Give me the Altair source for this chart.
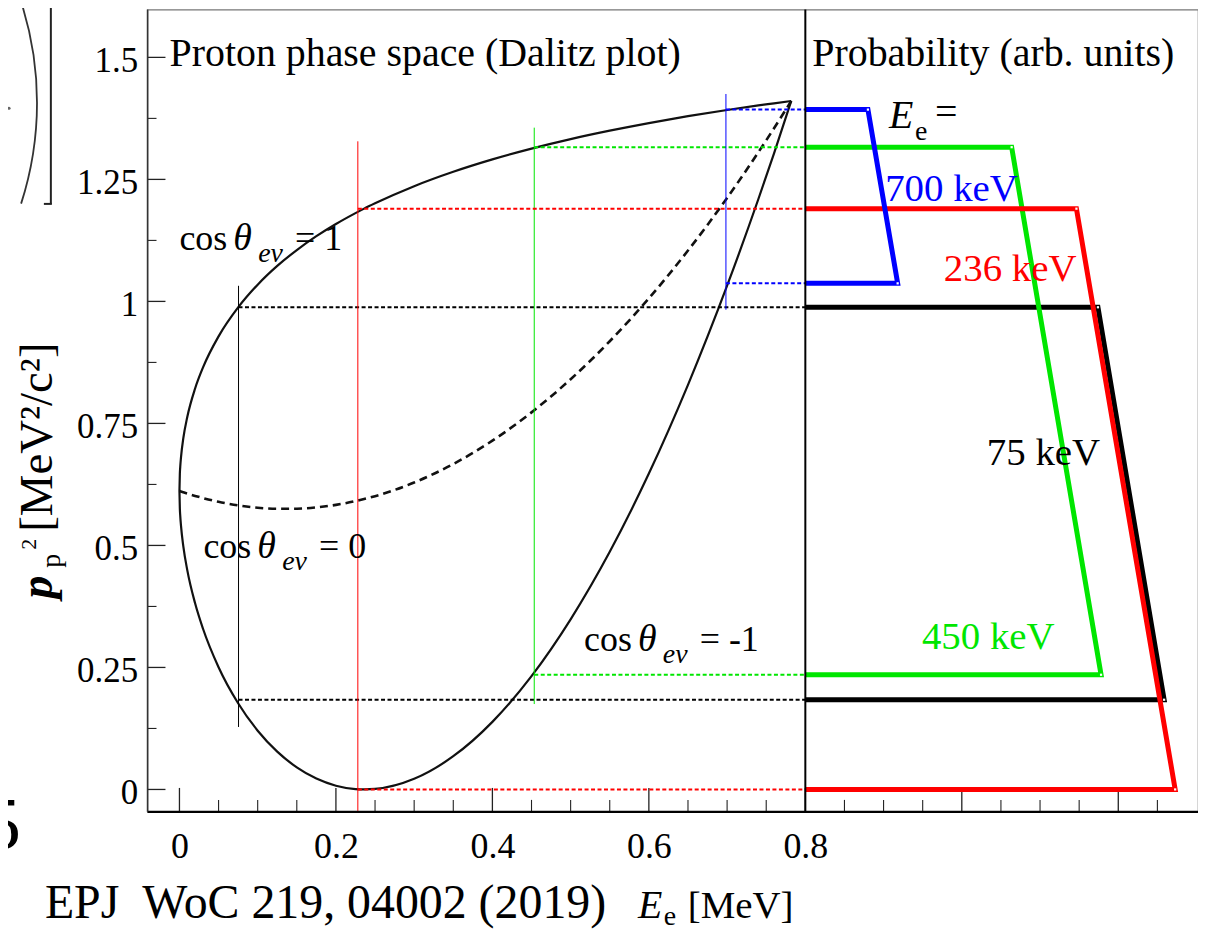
import altair as alt
import pandas as pd

FONT = "Liberation Serif"
W, H = 1054, 805
X_DOMAIN = [-0.0408, 1.3019]
Y_DOMAIN = [-0.0459, 1.598]

# ---------------- Dalitz boundary, values ----------------
E_grid = [0, 0.0005, 0.001, 0.002, 0.005, 0.01, 0.02, 0.03, 0.05, 0.075, 0.1,
          0.125, 0.15, 0.175, 0.2, 0.225, 0.236, 0.25, 0.3, 0.35, 0.4, 0.45,
          0.5, 0.55, 0.6, 0.65, 0.7, 0.74, 0.76, 0.782]
p2_cos_plus = [0.6115, 0.6466, 0.6609, 0.6810, 0.7202, 0.7632, 0.8216, 0.8643,
               0.9283, 0.9876, 1.0343, 1.0727, 1.1052, 1.1336, 1.1586, 1.1809,
               1.1901, 1.2010, 1.2361, 1.2656, 1.2910, 1.3131, 1.3326, 1.3498,
               1.3654, 1.3795, 1.3922, 1.4016, 1.4059, 1.4107]
p2_cos_zero = [0.6115, 0.6113, 0.6110, 0.6105, 0.6089, 0.6063, 0.6015, 0.5971,
               0.5894, 0.5821, 0.5773, 0.5750, 0.5752, 0.5779, 0.5831, 0.5908,
               0.5950, 0.6010, 0.6289, 0.6668, 0.7147, 0.7726, 0.8405, 0.9184,
               1.0063, 1.1042, 1.2121, 1.3057, 1.3548, 1.4107]
p2_cos_minus = [0.6115, 0.5759, 0.5610, 0.5399, 0.4975, 0.4494, 0.3814, 0.3298,
                0.2505, 0.1766, 0.1204, 0.0775, 0.0452, 0.0223, 0.0077, 0.0007,
                0.0000, 0.0010, 0.0218, 0.0681, 0.1385, 0.2322, 0.3486, 0.4869,
                0.6472, 0.8290, 1.0321, 1.2098, 1.3035, 1.4107]

# ---------------- selected electron energies (drawing order) ----------------
sel_label = ["75 keV", "450 keV", "236 keV", "700 keV"]
sel_color = ["#000000", "#00e600", "#ff0000", "#0000ff"]
sel_E = [0.0755, 0.4535, 0.228, 0.6985]
sel_vtop = [1.032, 1.356, 1.328, 1.425]
sel_vbot = [0.128, 0.175, -0.044, 0.983]
sel_p2_high = [0.988, 1.316, 1.190, 1.393]
sel_p2_low = [0.1838, 0.235, 0.0, 1.037]
prob_top_x = [1.174, 1.0637, 1.1465, 0.880]
prob_bot_x = [1.2586, 1.178, 1.2727, 0.918]
label_x = [1.032, 0.949, 0.977, 0.902]
label_y = [0.6647, 0.287, 1.0425, 1.206]
PANEL_SPLIT = 0.8

# ---------------- axes ----------------
x_tick_labels = [0, 0.2, 0.4, 0.6, 0.8]
x_ticks_major = [0, 0.2, 0.4, 0.6, 0.8, 1.0, 1.2]
x_ticks_minor = [0.05, 0.1, 0.15, 0.25, 0.3, 0.35, 0.45, 0.5, 0.55, 0.65, 0.7,
                 0.75, 0.85, 0.9, 0.95, 1.05, 1.1, 1.15, 1.25]
y_ticks_major = [0, 0.25, 0.5, 0.75, 1.0, 1.25, 1.5]
y_ticks_minor = [0.125, 0.375, 0.625, 0.875, 1.125, 1.375]

# ---------------- annotations ----------------
title_text = ["Proton phase space (Dalitz plot)", "Probability (arb. units)"]
title_x = [-0.0127, 0.8089]
title_y = [1.4815, 1.4815]
cos_value = ["= 1", "= 0", "= -1"]
cos_x = [0.0, 0.0306, 0.5172]
cos_y = [1.1058, 0.4748, 0.2828]
ee_x = [0.907]
ee_y = [1.355]

X_AXIS = alt.Axis(values=x_tick_labels, labelExpr="'' + datum.value", labelFont=FONT,
                  labelFontSize=36, labelColor="black", labelPadding=18, ticks=False,
                  domain=False, grid=False, labelFlush=False, labelOverlap=False)
Y_AXIS = alt.Axis(values=y_ticks_major, labelExpr="'' + datum.value", labelFont=FONT,
                  labelFontSize=35, labelColor="black", labelPadding=10, ticks=False,
                  domain=False, grid=False, labelFlush=False, labelOverlap=False,
                  labelBaseline="middle", labelOffset=3)


def xenc(field="x"):
    return alt.X(f"{field}:Q", title=None, axis=X_AXIS,
                 scale=alt.Scale(domain=X_DOMAIN, nice=False, zero=False))


def yenc(field="y"):
    return alt.Y(f"{field}:Q", title=None, axis=Y_AXIS,
                 scale=alt.Scale(domain=Y_DOMAIN, nice=False, zero=False))


layers = []

# frame pieces and ticks
layers.append(alt.Chart(pd.DataFrame({"x": x_ticks_major})).mark_rule(color="#222", strokeWidth=1.3)
              .encode(x=xenc(), y=alt.value(H), y2=alt.value(H - 24)))
layers.append(alt.Chart(pd.DataFrame({"x": x_ticks_minor})).mark_rule(color="#222", strokeWidth=1.1)
              .encode(x=xenc(), y=alt.value(H), y2=alt.value(H - 12)))
layers.append(alt.Chart(pd.DataFrame({"y": y_ticks_major})).mark_rule(color="#222", strokeWidth=1.3)
              .encode(y=yenc(), x=alt.value(0), x2=alt.value(18)))
layers.append(alt.Chart(pd.DataFrame({"y": y_ticks_minor})).mark_rule(color="#222", strokeWidth=1.1)
              .encode(y=yenc(), x=alt.value(0), x2=alt.value(9)))

# Dalitz boundary (cos = +1 and cos = -1 branches)
bnd = pd.DataFrame({
    "x": E_grid + E_grid,
    "y": p2_cos_plus + p2_cos_minus,
    "branch": ["plus"] * len(E_grid) + ["minus"] * len(E_grid),
})
layers.append(alt.Chart(bnd).mark_line(color="#111", strokeWidth=2.2, interpolate="monotone")
              .encode(x=xenc(), y=yenc(), detail="branch:N", order="x:Q"))
mid = pd.DataFrame({"x": E_grid, "y": p2_cos_zero})
layers.append(alt.Chart(mid).mark_line(color="#111", strokeWidth=2.6, strokeDash=[8, 5],
                                       interpolate="monotone")
              .encode(x=xenc(), y=yenc(), order="x:Q"))

# guide lines and probability trapezoids
for i in range(len(sel_E)):
    col = sel_color[i]
    v = pd.DataFrame({"x": [sel_E[i]], "y": [sel_vbot[i]], "y2": [sel_vtop[i]]})
    layers.append(alt.Chart(v).mark_rule(color=col, strokeWidth=1)
                  .encode(x=xenc(), y=yenc(), y2="y2:Q"))
    hz = pd.DataFrame({"x": [sel_E[i]] * 2, "x2": [PANEL_SPLIT] * 2,
                       "y": [sel_p2_high[i], sel_p2_low[i]]})
    layers.append(alt.Chart(hz).mark_rule(color=col, strokeWidth=2, strokeDash=[4, 2.5])
                  .encode(x=xenc(), x2="x2:Q", y=yenc()))
for i in range(len(sel_E)):
    col = sel_color[i]
    tr = pd.DataFrame({"x": [PANEL_SPLIT, prob_top_x[i], prob_bot_x[i], PANEL_SPLIT],
                       "y": [sel_p2_high[i], sel_p2_high[i], sel_p2_low[i], sel_p2_low[i]],
                       "k": [0, 1, 2, 3]})
    layers.append(alt.Chart(tr).mark_line(color=col, strokeWidth=5, strokeJoin="miter")
                  .encode(x=xenc(), y=yenc(), order="k:Q"))
    cn = pd.DataFrame({"x": [prob_top_x[i], prob_bot_x[i]], "y": [sel_p2_high[i], sel_p2_low[i]]})
    layers.append(alt.Chart(cn).mark_point(shape="square", filled=True, color="white", size=5, opacity=1)
                  .encode(x=xenc(), y=yenc()))

# panel separator, left and bottom frame lines
layers.append(alt.Chart(pd.DataFrame({"x": [PANEL_SPLIT]})).mark_rule(color="black", strokeWidth=2)
              .encode(x=xenc(), y=alt.value(0), y2=alt.value(H)))
one = pd.DataFrame({"a": [0]})
layers.append(alt.Chart(one).mark_rule(color="black", strokeWidth=2.2)
              .encode(x=alt.value(0), x2=alt.value(W), y=alt.value(H)))
layers.append(alt.Chart(one).mark_rule(color="#333", strokeWidth=1.5)
              .encode(x=alt.value(0), y=alt.value(0), y2=alt.value(H)))

# in-plot texts
tt = pd.DataFrame({"x": title_x, "y": title_y, "t": title_text})
layers.append(alt.Chart(tt).mark_text(font=FONT, fontSize=40, align="left", baseline="alphabetic",
                                      color="black")
              .encode(x=xenc(), y=yenc(), text="t:N"))
el = pd.DataFrame({"x": label_x, "y": label_y, "t": sel_label, "c": sel_color})
layers.append(alt.Chart(el).mark_text(font=FONT, fontSize=39, align="left", baseline="alphabetic")
              .encode(x=xenc(), y=yenc(), text="t:N", color=alt.Color("c:N", scale=None)))
ee = pd.DataFrame({"x": ee_x, "y": ee_y})
layers.append(alt.Chart(ee).mark_text(font=FONT, fontSize=40, fontStyle="italic", align="left",
                                      baseline="alphabetic", color="black", text="E")
              .encode(x=xenc(), y=yenc()))
layers.append(alt.Chart(ee).mark_text(font=FONT, fontSize=28, align="left", dx=26, dy=12,
                                      baseline="alphabetic", color="black", text="e")
              .encode(x=xenc(), y=yenc()))
layers.append(alt.Chart(ee).mark_text(font=FONT, fontSize=40, align="left", dx=46, dy=-3,
                                      baseline="alphabetic", color="black", text="=")
              .encode(x=xenc(), y=yenc()))
cs = pd.DataFrame({"x": cos_x, "y": cos_y, "t": cos_value})
layers.append(alt.Chart(cs).mark_text(font=FONT, fontSize=36, align="left", baseline="alphabetic",
                                      color="black", text="cos")
              .encode(x=xenc(), y=yenc()))
layers.append(alt.Chart(cs).mark_text(font=FONT, fontSize=38, fontStyle="italic", align="left", dx=54,
                                      baseline="alphabetic", color="black", text="θ")
              .encode(x=xenc(), y=yenc()))
layers.append(alt.Chart(cs).mark_text(font=FONT, fontSize=28, fontStyle="italic", align="left", dx=79,
                                      dy=12, baseline="alphabetic", color="black", text="eν")
              .encode(x=xenc(), y=yenc()))
layers.append(alt.Chart(cs).mark_text(font=FONT, fontSize=36, align="left", dx=116,
                                      baseline="alphabetic", color="black")
              .encode(x=xenc(), y=yenc(), text="t:N"))


# axis titles (outside the plot area)
def ptext(txt, px, py, size, align="left", **kw):
    return (alt.Chart(one).mark_text(font=FONT, fontSize=size, align=align, baseline="alphabetic",
                                     color="black", text=txt, **kw)
            .encode(x=alt.value(px), y=alt.value(py)))


layers.append(ptext("EPJ\u00a0 WoC 219, 04002 (2019)", -103, 911, 48))
layers.append(ptext("E", 492, 911, 40, fontStyle="italic"))
layers.append(ptext("e", 518, 919, 28))
layers.append(ptext("[MeV]", 542, 911, 39))
layers.append(ptext("p", -96, 591, 46, angle=270, fontStyle="italic", fontWeight="bold"))
layers.append(ptext("p", -88, 560, 28, angle=270))
layers.append(ptext("2", -112, 542, 22, angle=270))
layers.append(ptext("[MeV\u00b2/c\u00b2]", -96, 524, 47, angle=270))

# cropped fragments at the left edge of the slide
layers.append(ptext("5", -127, 842, 75, align="right"))
layers.append(alt.Chart(one).mark_rule(color="#222", strokeWidth=2)
              .encode(x=alt.value(-97), y=alt.value(-6), y2=alt.value(195)))
layers.append(alt.Chart(one).mark_rule(color="#222", strokeWidth=2)
              .encode(x=alt.value(-104), x2=alt.value(-96), y=alt.value(195)))
layers.append(alt.Chart(one).mark_arc(color="#333", theta=1.2582, theta2=1.8834,
                                      radius=330, radius2=328.2)
              .encode(x=alt.value(-440), y=alt.value(93.5)))
layers.append(alt.Chart(one).mark_point(filled=True, color="#222", size=10)
              .encode(x=alt.value(-139), y=alt.value(99)))

chart = (alt.layer(*layers)
         .properties(width=W, height=H,
                     padding={"left": 140, "top": 0, "right": 0, "bottom": 122},
                     autosize=alt.AutoSizeParams(type="none"))
         .configure_view(stroke="#777", strokeWidth=1.2))

chart.save("out.html", embed_options={"renderer": "svg", "actions": False})
